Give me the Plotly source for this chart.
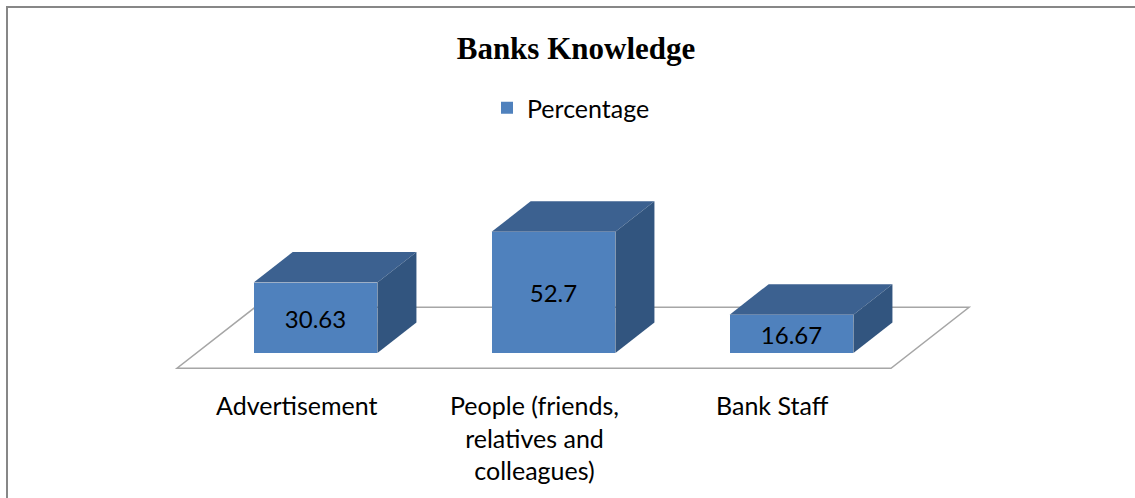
import plotly.graph_objects as go

# ---- data -------------------------------------------------------------
categories = ["Advertisement", "People (friends,<br>relatives and<br>colleagues)", "Bank Staff"]
percentages = [30.63, 52.7, 16.67]
series_name = "Percentage"
chart_title = "Banks Knowledge"

# ---- oblique 3D projection onto the 2D axes -----------------------------
DEPTH_X = 0.328          # x shift (category units) per unit of floor depth
DEPTH_Y = 26.5           # y shift (value units) per unit of floor depth
FRONT, BACK = 0.25, 0.75 # depth span occupied by the boxes on the floor
HALF_W = 0.26            # half width of a box (category units)

FRONT_COLOR = "#4F81BD"
TOP_COLOR = "#3C6190"
SIDE_COLOR = "#32557F"
TEXT_FONT = "Lato, Carlito, Calibri, sans-serif"

W, H = 1135, 498


def proj(x, v, d):
    """Project point (category x, value v, depth d) to 2D axis coordinates."""
    return x + DEPTH_X * d, v + DEPTH_Y * (d - FRONT)


fig = go.Figure()

# front faces of the boxes (also give the legend entry)
front_x = [i + DEPTH_X * FRONT for i in range(len(categories))]
fig.add_trace(go.Bar(
    x=front_x, y=percentages, base=0, width=2 * HALF_W,
    name=series_name, showlegend=True,
    marker=dict(color=FRONT_COLOR, line=dict(width=0)),
    texttemplate="%{y}", textposition="inside", insidetextanchor="middle",
    constraintext="none",
    textfont=dict(family=TEXT_FONT, size=24, color="black"),
    hoverinfo="skip",
))

# top and right-hand faces
for i, v in enumerate(percentages):
    top = [proj(i - HALF_W, v, FRONT), proj(i + HALF_W, v, FRONT),
           proj(i + HALF_W, v, BACK), proj(i - HALF_W, v, BACK)]
    side = [proj(i + HALF_W, 0, FRONT), proj(i + HALF_W, v, FRONT),
            proj(i + HALF_W, v, BACK), proj(i + HALF_W, 0, BACK)]
    for pts, col in ((top, TOP_COLOR), (side, SIDE_COLOR)):
        xs = [p[0] for p in pts] + [pts[0][0]]
        ys = [p[1] for p in pts] + [pts[0][1]]
        fig.add_trace(go.Scatter(
            x=xs, y=ys, mode="lines", fill="toself", fillcolor=col,
            line=dict(width=0, color=col), showlegend=False, hoverinfo="skip",
        ))

# floor plane under the boxes
n = len(categories)
floor = [proj(-0.5, 0, 0), proj(n - 0.5, 0, 0), proj(n - 0.5, 0, 1), proj(-0.5, 0, 1)]
floor_path = "M " + " L ".join(f"{x},{y}" for x, y in floor) + " Z"

# chart frame: only its left and top edges fall inside the page
fx, fy = 7 / W, 1 - 7 / H
frame_path = f"M {fx},0 L {fx},{fy} L 1,{fy}"

shapes = [
    dict(type="path", path=floor_path, xref="x", yref="y", layer="below",
         line=dict(color="#A6A6A6", width=1.5), fillcolor="white"),
    dict(type="path", path=frame_path, xref="paper", yref="paper",
         line=dict(color="#878787", width=2)),
]

# category labels below the floor's front edge
annotations = []
for i, c in enumerate(categories):
    annotations.append(dict(
        x=i, y=1 - 388 / H, xref="x", yref="paper", text=c, showarrow=False,
        xanchor="center", yanchor="top", align="center",
        font=dict(family=TEXT_FONT, size=25, color="black"),
    ))

# axis ranges: 238 px per category, 2.3 px per percentage point
PX_X0, PX_PER_CAT = 296, 238
PX_Y0, PX_PER_VAL = 353, 2.3
x_range = [(0 - PX_X0) / PX_PER_CAT, (W - PX_X0) / PX_PER_CAT]
y_range = [(PX_Y0 - H) / PX_PER_VAL, PX_Y0 / PX_PER_VAL]

fig.update_layout(
    width=W, height=H,
    margin=dict(l=0, r=0, t=0, b=0),
    paper_bgcolor="white", plot_bgcolor="white",
    title=dict(text=f"<b>{chart_title}</b>", x=576 / W, xanchor="center",
               y=1 - 48 / H, yanchor="middle",
               font=dict(family="Liberation Serif, Times New Roman, serif", size=31, color="black")),
    legend=dict(orientation="h", x=487 / W, xanchor="left", y=1 - 108 / H, yanchor="middle",
                font=dict(family=TEXT_FONT, size=25, color="black"),
                bgcolor="rgba(0,0,0,0)"),
    xaxis=dict(range=x_range, visible=False, fixedrange=True),
    yaxis=dict(range=y_range, visible=False, fixedrange=True),
    shapes=shapes, annotations=annotations,
    hovermode=False, bargap=0,
)

fig.write_html("out.html")
